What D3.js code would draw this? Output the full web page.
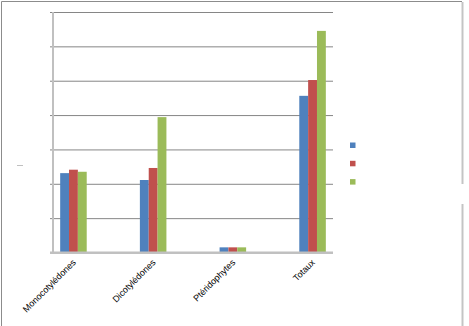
<!DOCTYPE html>
<html>
<head>
<meta charset="utf-8">
<script src="https://cdn.jsdelivr.net/npm/d3@7"></script>
<style>
  body { margin: 0; background: #fff; }
  svg { display: block; }
</style>
</head>
<body>
<svg id="chart" width="469" height="326"></svg>
<script>
var categories = ["Monocotylédones", "Dicotylédones", "Ptéridophytes", "Totaux"];
var series1 = [231, 211, 15, 456];
var series2 = [241, 246, 15, 502];
var series3 = [235, 394, 15, 645];
var seriesNames = ["", "", ""];
var yTicks = [0, 100, 200, 300, 400, 500, 600, 700];

var colors = ["#4F81BD", "#C0504D", "#9BBB59"];

var svg = d3.select("#chart");

// frame
svg.append("line").attr("x1", 1.5).attr("y1", 1.5).attr("x2", 462).attr("y2", 1.5)
   .attr("stroke", "#8c8c8c").attr("stroke-width", 1);
svg.append("line").attr("x1", 1.5).attr("y1", 1.5).attr("x2", 1.5).attr("y2", 326)
   .attr("stroke", "#8c8c8c").attr("stroke-width", 1);
svg.append("line").attr("x1", 462.5).attr("y1", 2).attr("x2", 462.5).attr("y2", 184)
   .attr("stroke", "#c4c4c4").attr("stroke-width", 2);
svg.append("line").attr("x1", 462.5).attr("y1", 204).attr("x2", 462.5).attr("y2", 326)
   .attr("stroke", "#c4c4c4").attr("stroke-width", 2);

// empty axis title stub
svg.append("line").attr("x1", 17).attr("y1", 165.5).attr("x2", 23).attr("y2", 165.5)
   .attr("stroke", "#c0c0c0").attr("stroke-width", 1);

var plotLeft = 53, plotRight = 333, plotTop = 12, plotBottom = 252.5;

var x0 = d3.scaleBand().domain(categories).range([plotLeft, plotRight])
           .paddingInner(0.667).paddingOuter(0.09);
var x1 = d3.scaleBand().domain([0, 1, 2]).range([0, x0.bandwidth()]);
var y = d3.scaleLinear().domain([0, 700]).range([plotBottom, plotTop]);

// gridlines
svg.append("g")
   .attr("transform", "translate(" + plotLeft + ",0)")
   .call(d3.axisLeft(y).tickValues(yTicks).tickSize(-(plotRight - plotLeft)).tickSizeOuter(0).tickFormat(""))
   .call(function(g) {
     g.select(".domain").remove();
     g.selectAll(".tick line").attr("stroke", "#868686").attr("stroke-width", 1);
   });

// tick marks outside
svg.append("g")
   .attr("transform", "translate(" + plotLeft + ",0)")
   .call(d3.axisLeft(y).tickValues(yTicks).tickSize(3).tickSizeOuter(0).tickFormat(""))
   .call(function(g) {
     g.select(".domain").remove();
     g.selectAll(".tick line").attr("stroke", "#868686");
   });

var data = categories.map(function(c, i) {
  return { cat: c, values: [series1[i], series2[i], series3[i]] };
});

var groups = svg.selectAll(".grp")
   .data(data)
   .enter().append("g")
   .attr("class", "grp")
   .attr("transform", function(d) { return "translate(" + x0(d.cat) + ",0)"; });

groups.selectAll("rect")
   .data(function(d) { return d.values; })
   .enter().append("rect")
   .attr("x", function(d, i) { return x1(i); })
   .attr("y", function(d) { return y(d); })
   .attr("width", x1.bandwidth())
   .attr("height", function(d) { return plotBottom - y(d); })
   .attr("fill", function(d, i) { return colors[i]; });

// axes lines
svg.append("line").attr("x1", plotLeft).attr("y1", plotTop).attr("x2", plotLeft).attr("y2", plotBottom + 1)
   .attr("stroke", "#c0c0c0").attr("stroke-width", 2);
svg.append("line").attr("x1", plotLeft - 3).attr("y1", plotBottom).attr("x2", plotRight).attr("y2", plotBottom)
   .attr("stroke", "#c0c0c0").attr("stroke-width", 2);

// category labels
svg.selectAll(".lab")
   .data(categories)
   .enter().append("text")
   .attr("class", "lab")
   .attr("transform", function(d) {
     var cx = x0(d) + x0.bandwidth() / 2;
     return "translate(" + (cx + 3) + "," + 263 + ") rotate(-45)";
   })
   .attr("text-anchor", "end")
   .attr("font-family", "Liberation Sans, Arial, sans-serif")
   .attr("font-size", "9px")
   .attr("fill", "#000")
   .text(function(d) { return d; });

// legend
var legend = svg.selectAll(".leg")
   .data(seriesNames)
   .enter().append("g")
   .attr("class", "leg")
   .attr("transform", function(d, i) { return "translate(350," + (142.5 + i * 18.3) + ")"; });

legend.append("rect")
   .attr("width", 5.5)
   .attr("height", 5.5)
   .attr("fill", function(d, i) { return colors[i]; });

legend.append("text")
   .attr("x", 10)
   .attr("y", 5)
   .attr("font-family", "Liberation Sans, Arial, sans-serif")
   .attr("font-size", "9px")
   .text(function(d) { return d; });
</script>
</body>
</html>
